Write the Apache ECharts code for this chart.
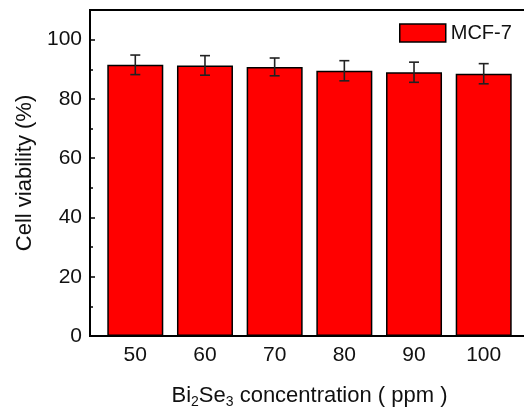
<!DOCTYPE html>
<html lang="en">
  <head>
    <meta charset="UTF-8" />
    <title>Cell viability bar chart</title>
    <script src="https://cdn.jsdelivr.net/npm/echarts@6/dist/echarts.min.js"></script>
    <style>
      html, body { margin: 0; padding: 0; background: #fff; }
      #main { width: 524px; height: 412px; }
    </style>
  </head>
  <body>
    <div id="main"></div>

    <script>
      // concentrations (ppm) and viability
      const concentrations = [50, 60, 70, 80, 90, 100];
      const viability = [91.5, 91.3, 90.8, 89.5, 89.0, 88.5];
      const viabilityErr = [3.3, 3.3, 3.0, 3.4, 3.4, 3.4];
      const seriesName = 'MCF-7';

      const font = "'Liberation Sans', Arial, sans-serif";
      const ink = '#111';

      const barData = concentrations.map((c, i) => [c, viability[i]]);
      const errData = concentrations.map((c, i) => [c, viability[i] - viabilityErr[i], viability[i] + viabilityErr[i]]);

      function renderErr(params, api) {
        const x = api.value(0);
        const lo = api.coord([x, api.value(1)]);
        const hi = api.coord([x, api.value(2)]);
        const cap = 5;
        const style = { stroke: '#222', lineWidth: 1.6 };
        return {
          type: 'group',
          children: [
            { type: 'line', shape: { x1: lo[0], y1: lo[1], x2: hi[0], y2: hi[1] }, style },
            { type: 'line', shape: { x1: hi[0] - cap, y1: hi[1], x2: hi[0] + cap, y2: hi[1] }, style },
            { type: 'line', shape: { x1: lo[0] - cap, y1: lo[1], x2: lo[0] + cap, y2: lo[1] }, style }
          ]
        };
      }

      const chart = echarts.init(document.getElementById('main'), null, { renderer: 'canvas' });

      chart.setOption({
        animation: false,
        backgroundColor: '#fff',
        textStyle: { fontFamily: font, color: ink },
        grid: {
          left: 90, top: 10, right: -5, bottom: 76,
          outerBoundsMode: 'none',
          containLabel: false,
          show: true, borderColor: '#000', borderWidth: 2
        },
        legend: {
          left: 399, top: 23, padding: 0,
          icon: 'rect',
          itemWidth: 46, itemHeight: 18, itemGap: 0,
          textStyle: { fontFamily: font, fontSize: 20, color: ink },
          itemStyle: { color: '#ff0000', borderColor: '#000', borderWidth: 1.5 },
          data: [seriesName]
        },
        xAxis: {
          type: 'value',
          min: 43.5, max: 106.5,
          splitLine: { show: false },
          axisLine: { show: true, lineStyle: { color: '#000', width: 2 } },
          axisTick: { show: false },
          axisLabel: {
            fontFamily: font, fontSize: 21, color: ink, margin: 9,
            showMinLabel: false, showMaxLabel: false,
            formatter: v => (v % 10 === 0 ? String(v) : '')
          },
          name: '{t|Bi}{s|2}{t|Se}{s|3}{t| concentration ( ppm )}',
          nameLocation: 'middle',
          nameGap: 46,
          nameTextStyle: {
            rich: {
              t: { fontFamily: font, fontSize: 22, color: ink },
              s: { fontFamily: font, fontSize: 14, color: ink, verticalAlign: 'bottom', padding: [13, 0, 0, 0] }
            }
          }
        },
        yAxis: {
          type: 'value',
          min: 0, max: 110, interval: 20,
          splitLine: { show: false },
          axisLine: { show: true, lineStyle: { color: '#000', width: 2 } },
          axisTick: { show: true, inside: true, length: 5, lineStyle: { color: '#000', width: 1.5 } },
          minorTick: { show: true, splitNumber: 2, length: 3, lineStyle: { color: '#000', width: 1.5 } },
          axisLabel: {
            fontFamily: font, fontSize: 21, color: ink, margin: 8,
            showMaxLabel: false,
            formatter: v => (v % 20 === 0 ? String(v) : '')
          },
          name: 'Cell viability (%)',
          nameLocation: 'middle',
          nameGap: 50,
          nameTextStyle: { fontFamily: font, fontSize: 22, color: ink }
        },
        series: [
          {
            name: seriesName,
            type: 'bar',
            barWidth: 56,
            data: barData,
            itemStyle: { color: '#ff0000', borderColor: '#000', borderWidth: 1.5 }
          },
          {
            type: 'custom',
            renderItem: renderErr,
            data: errData,
            z: 10,
            encode: { x: 0, y: [1, 2] }
          }
        ]
      });

      window.onresize = function () {
        chart.resize();
      };
    </script>
  </body>
</html>
